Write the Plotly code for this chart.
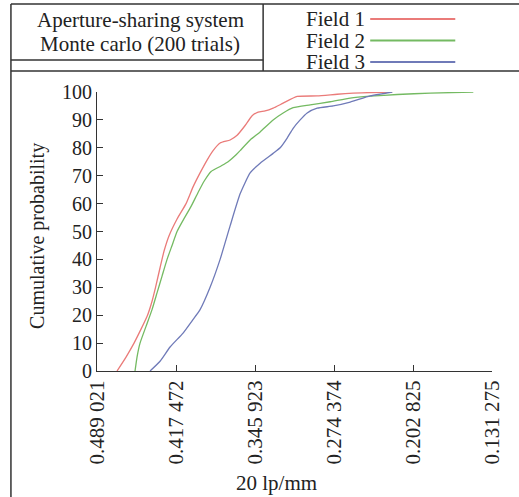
import plotly.graph_objects as go

W, H = 519, 497

# ---------------- data ----------------
tick_vals = [0.489021, 0.417472, 0.345923, 0.274374, 0.202825, 0.131275]
tick_text = ["0.489 021", "0.417 472", "0.345 923", "0.274 374", "0.202 825", "0.131 275"]

field1_x = [0.47089, 0.46273, 0.45548, 0.44914, 0.44325, 0.43917, 0.43600, 0.43192, 0.42829,
            0.42376, 0.41651, 0.40835, 0.40201, 0.39566, 0.38932, 0.38388, 0.37753, 0.36847,
            0.36213, 0.35487, 0.34853, 0.34309, 0.33675, 0.32950, 0.32043, 0.30774, 0.28961,
            0.27149, 0.25698, 0.24157, 0.22163]
field1_y = [0, 5, 10, 15, 20, 25, 30, 37, 43, 48.5, 54.5, 60, 66, 71, 75.6, 79, 81.7, 82.8, 84.5,
            88, 91.5, 92.8, 93.2, 94.2, 96, 98.4, 98.6, 99.2, 99.6, 99.8, 100]

field2_x = [0.45458, 0.45277, 0.45005, 0.44461, 0.43917, 0.43464, 0.43011, 0.42557, 0.42104,
            0.41651, 0.41107, 0.40382, 0.39747, 0.39203, 0.38569, 0.37663, 0.37028, 0.36303,
            0.35941, 0.35034, 0.34128, 0.32950, 0.32043, 0.31137, 0.29596, 0.27783, 0.25970,
            0.24157, 0.21710, 0.18719, 0.14822]
field2_y = [0, 5, 10, 16, 22, 28, 34, 40, 45, 50, 54, 59, 64, 68, 71.5, 73.5, 75, 77.5, 79,
            82.8, 85.7, 90, 92.5, 94.4, 95.4, 96.5, 97.8, 98.5, 99.1, 99.6, 100]

field3_x = [0.44098, 0.43192, 0.42285, 0.41107, 0.40291, 0.39566, 0.38660, 0.37753, 0.36847,
            0.35941, 0.35034, 0.34128, 0.32950, 0.32315, 0.31680, 0.31137, 0.30502, 0.29868,
            0.28961, 0.27511, 0.25970, 0.24157, 0.22163]
field3_y = [0, 3.5, 8.6, 13.6, 18, 22, 30, 40, 52, 63.5, 71, 74.5, 78, 80, 83.5, 87, 90,
            92.5, 94.2, 95, 96.4, 98.6, 100]

series_names = ["Field 1", "Field 2", "Field 3"]
series_colors = ["#ea7b79", "#74ba62", "#6f7ab8"]
header_lines = ["Aperture-sharing system", "Monte carlo (200 trials)"]
x_title = "20 lp/mm"
y_title = "Cumulative probability"

# ---------------- layout geometry (pixels) ----------------
PL, PR, PT, PB = 97, 491.7, 92, 371   # plot area edges
ML, MR, MT, MB = PL, W - PR, PT, H - PB


def px(x):
    return (x - PL) / (PR - PL)


def py(y):
    return (PB - y) / (PB - PT)


FONT = "Liberation Serif, Times New Roman, serif"
TXT = "#222222"

fig = go.Figure()
for xs, ys, name, col in zip([field1_x, field2_x, field3_x],
                             [field1_y, field2_y, field3_y],
                             series_names, series_colors):
    fig.add_trace(go.Scatter(x=xs, y=ys, mode="lines", name=name,
                             line=dict(color=col, width=1.3, shape="spline", smoothing=0.5),
                             showlegend=False, cliponaxis=False))

fig.update_layout(
    width=W, height=H,
    margin=dict(l=ML, r=MR, t=MT, b=MB, pad=0, autoexpand=False),
    paper_bgcolor="white", plot_bgcolor="white",
    font=dict(family=FONT, size=20, color=TXT),
    xaxis=dict(range=[0.489021, 0.131275], automargin=False,
               tickvals=tick_vals, ticktext=tick_text, tickangle=-90,
               ticks="inside", ticklen=6, tickcolor="#333", tickwidth=1.2,
               showline=True, linecolor="#333", linewidth=1.2, showgrid=False,
               zeroline=False, tickfont=dict(size=21)),
    yaxis=dict(range=[0, 100], dtick=10, automargin=False,
               ticks="inside", ticklen=6, tickcolor="#333", tickwidth=1.2,
               showline=True, linecolor="#333", linewidth=1.2, showgrid=False,
               zeroline=False, tickfont=dict(size=20)),
)

# frame lines of the header table
frame = [
    (11, 4, 519, 4),
    (11, 4, 11, 497),
    (263, 4, 263, 71),
    (11, 60, 263, 60),
    (11, 71, 519, 71),
]
for x0, y0, x1, y1 in frame:
    fig.add_shape(type="line", xref="paper", yref="paper",
                  x0=px(x0), y0=py(y0), x1=px(x1), y1=py(y1),
                  line=dict(color="#333", width=1.5))

# header text
for i, t in enumerate(header_lines):
    fig.add_annotation(text=t, xref="paper", yref="paper", x=px(140), y=py(20 + 24 * i),
                       showarrow=False, xanchor="center", yanchor="middle",
                       font=dict(size=21))

# legend
for i, (name, col) in enumerate(zip(series_names, series_colors)):
    yy = 19 + 21.5 * i
    fig.add_annotation(text=name, xref="paper", yref="paper", x=px(367), y=py(yy),
                       showarrow=False, xanchor="right", yanchor="middle",
                       font=dict(size=21))
    fig.add_shape(type="line", xref="paper", yref="paper",
                  x0=px(370), x1=px(455), y0=py(yy), y1=py(yy),
                  line=dict(color=col, width=2))

# axis titles
fig.add_annotation(text=x_title, xref="paper", yref="paper", x=px(276), y=py(483),
                   showarrow=False, xanchor="center", yanchor="middle", font=dict(size=21))
fig.add_annotation(text=y_title, xref="paper", yref="paper", x=px(37), y=py(236),
                   showarrow=False, xanchor="center", yanchor="middle", textangle=-90,
                   font=dict(size=20))

fig.write_html("out.html", config={"displayModeBar": False},
               post_script="document.body.style.margin='0';document.body.style.overflow='hidden';")
